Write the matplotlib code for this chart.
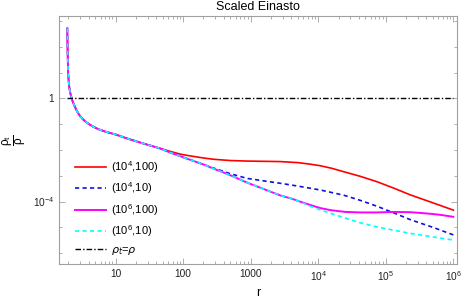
import numpy as np
import matplotlib.pyplot as plt
import matplotlib.ticker as mticker

plt.rcParams['font.family'] = ['Liberation Sans', 'DejaVu Sans']
plt.rcParams['mathtext.fontset'] = 'dejavusans'
plt.rcParams['mathtext.default'] = 'regular'

# values, as log10(r) and log10(rho_t/rho)
common_logr = [0.286, 0.288, 0.291, 0.295, 0.300, 0.310, 0.320, 0.335, 0.351, 0.360, 0.390, 0.420,
               0.450, 0.474, 0.520, 0.570, 0.620, 0.671, 0.750, 0.850, 1.0, 1.166, 1.40, 1.659]
common_logv = [2.71, 2.30, 1.80, 1.30, 0.90, 0.55, 0.35, 0.15, 0.0, -0.08, -0.28, -0.45,
               -0.59, -0.68, -0.82, -0.93, -1.02, -1.10, -1.20, -1.29, -1.40, -1.55, -1.74, -1.94]

red_logr = [1.80, 1.956, 2.104, 2.30, 2.449, 2.70, 2.944, 3.20, 3.437, 3.70, 3.88, 4.03, 4.20, 4.375, 4.62, 4.87, 5.12, 5.363, 5.70, 6.0]
red_logv = [-2.05, -2.16, -2.23, -2.31, -2.36, -2.41, -2.43, -2.44, -2.45, -2.49, -2.55, -2.61, -2.71, -2.84, -3.02, -3.23, -3.48, -3.74, -4.05, -4.33]

main_logr = [1.80, 1.956, 2.104, 2.30]
main_logv = [-2.09, -2.24, -2.38, -2.56]

blue_logr = [2.449, 2.70, 2.944, 3.20, 3.437, 3.70, 4.03, 4.375, 4.62, 4.87, 5.12, 5.363, 5.70, 6.0]
blue_logv = [-2.70, -2.92, -3.10, -3.20, -3.29, -3.40, -3.55, -3.75, -3.95, -4.18, -4.44, -4.70, -5.00, -5.29]

low_logr = [2.449, 2.70, 2.944, 3.20, 3.437, 3.60, 3.73]
low_logv = [-2.72, -2.98, -3.26, -3.52, -3.76, -3.88, -4.00]

magenta_logr = [3.88, 4.03, 4.18, 4.40, 4.62, 4.87, 5.12, 5.363, 5.61, 5.80, 6.0]
magenta_logv = [-4.13, -4.25, -4.33, -4.40, -4.42, -4.42, -4.40, -4.41, -4.46, -4.51, -4.59]

cyan_logr = [3.88, 4.03, 4.375, 4.62, 4.87, 5.12, 5.363, 5.70, 6.0]
cyan_logv = [-4.18, -4.32, -4.62, -4.82, -4.98, -5.11, -5.23, -5.37, -5.49]

labels = ["(10$^4$,100)", "(10$^4$,10)", "(10$^6$,100)", "(10$^6$,10)"]


def series(*parts):
    lr = np.concatenate([p[0] for p in parts])
    lv = np.concatenate([p[1] for p in parts])
    return 10 ** lr, 10 ** lv


red = series((common_logr, common_logv), (red_logr, red_logv))
blue = series((common_logr, common_logv), (main_logr, main_logv), (blue_logr, blue_logv))
magenta = series((common_logr, common_logv), (main_logr, main_logv), (low_logr, low_logv),
                 (magenta_logr, magenta_logv))
cyan = series((common_logr, common_logv), (main_logr, main_logv), (low_logr, low_logv),
              (cyan_logr, cyan_logv))

fig = plt.figure(figsize=(4.63, 2.99), dpi=100)
ax = fig.add_axes([0.1274, 0.116, 0.8590, 0.8305])

ax.plot(*red, color='red', lw=1.2, label=labels[0])
ax.plot(*blue, color='#1010e0', lw=1.2, dashes=(2.5, 2), label=labels[1])
ax.plot(*magenta, color='magenta', lw=1.4, label=labels[2])
ax.plot(*cyan, color='cyan', lw=1.2, dashes=(2.5, 2), label=labels[3])
ax.plot([red[0][0], red[0][-1]], [1, 1], color='black', lw=1.0, dashes=(4, 1.5, 1, 1.5),
        label=r'$\it{\rho_t}$=$\it{\rho}$')

ax.set_xscale('log')
ax.set_yscale('log')
ax.set_xlim(10 ** 0.163, 10 ** 6.05)
ax.set_ylim(10 ** -6.43, 10 ** 3.19)

# x ticks
ax.xaxis.set_major_locator(mticker.FixedLocator([10, 100, 1000, 1e4, 1e5, 1e6]))
ax.xaxis.set_major_formatter(mticker.FixedFormatter(["10", "100", "1000", "10$^4$", "10$^5$", "10$^6$"]))
ax.xaxis.set_minor_locator(mticker.LogLocator(base=10, subs=np.arange(2, 10), numticks=20))
ax.xaxis.set_minor_formatter(mticker.NullFormatter())

# y ticks: every decade, only 1 and 10^-4 labelled
ax.yaxis.set_major_locator(mticker.FixedLocator([1, 1e-4]))
ax.yaxis.set_major_formatter(mticker.FixedFormatter(["1", "10$^{-4}$"]))
ax.yaxis.set_minor_locator(mticker.FixedLocator([10.0 ** k for k in range(-6, 4) if k not in (0, -4)]))
ax.yaxis.set_minor_formatter(mticker.NullFormatter())

for side in ax.spines.values():
    side.set_color('#a0a0a0')
    side.set_linewidth(0.8)
ax.tick_params(which='both', direction='in', top=True, right=True, color='#a0a0a0',
               labelsize=7.3, labelcolor='#222222', width=0.6)
ax.tick_params(which='major', length=4)
ax.tick_params(which='minor', length=2)

ax.set_title('Scaled Einasto', fontsize=9, pad=4)
ax.set_xlabel('r', fontsize=9, labelpad=3)
ax.set_ylabel(r'$\frac{\rho_t}{\rho}$', fontsize=12)
ax.yaxis.set_label_coords(-0.072, 0.5)

ax.legend(loc='lower left', bbox_to_anchor=(0.02, 0.0), frameon=False, fontsize=8,
          handlelength=2.8, handletextpad=0.45, labelspacing=0.5, borderaxespad=0.3)

fig.savefig('out.png', dpi=100)
